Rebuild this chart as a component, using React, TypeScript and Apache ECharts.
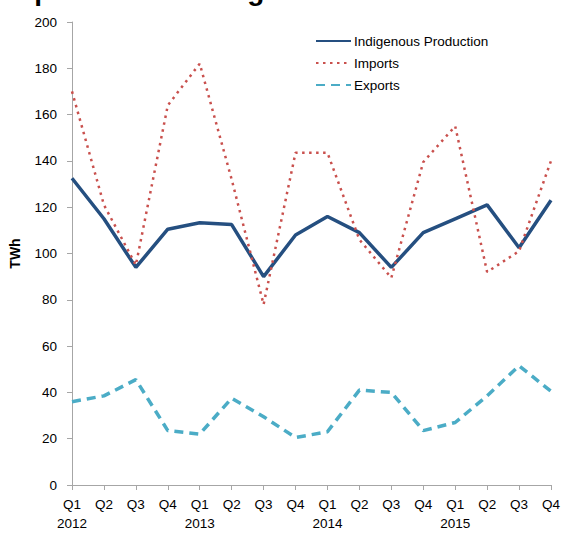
import React, { useEffect, useRef } from "react";
import * as echarts from "echarts";

const quarters = ["Q1", "Q2", "Q3", "Q4", "Q1", "Q2", "Q3", "Q4", "Q1", "Q2", "Q3", "Q4", "Q1", "Q2", "Q3", "Q4"];
const years = ["2012", "", "", "", "2013", "", "", "", "2014", "", "", "", "2015", "", "", ""];
const production = [132.5, 115, 94, 110.5, 113.3, 112.5, 90, 108, 116, 109, 94, 109, 115, 121, 102.5, 123];
const imports = [170, 121, 95, 164, 182, 132, 78, 143.5, 143.5, 106, 89.5, 139.5, 155, 92, 101, 140];
const exportsData = [36, 38.5, 45.5, 23.5, 22, 37.5, 29.5, 20.5, 23, 41, 40, 23.5, 27, 38.5, 51.5, 40.5];
const yTicks = { min: 0, max: 200, interval: 20 };

const FONT = "'Liberation Sans', Arial, sans-serif";

export default function App() {
  const ref = useRef<HTMLDivElement>(null);
  useEffect(() => {
    document.body.style.margin = "0";
    const chart = echarts.init(ref.current!, null, { renderer: "svg" });
    const cats = quarters.map((q, i) => (years[i] ? q + "\n" + years[i] : q));
    chart.setOption({
      animation: false,
      textStyle: { fontFamily: FONT },
      graphic: [
        {
          type: "text",
          left: 0,
          top: -24,
          style: {
            text: "Exports of natural gas",
            font: "bold 28px 'Liberation Sans', Arial, sans-serif",
            fill: "#000",
          },
        },
      ],
      legend: {
        orient: "vertical",
        left: 310,
        top: 29,
        itemWidth: 35,
        itemHeight: 10,
        itemGap: 8,
        itemStyle: { opacity: 0 },
        textStyle: { fontSize: 13.5, color: "#000", fontFamily: FONT, padding: [0, 0, 0, -2] },
        data: ["Indigenous Production", "Imports", "Exports"],
      },
      grid: { left: 72, right: 11, top: 22, bottom: 47, containLabel: false },
      xAxis: {
        type: "category",
        data: cats,
        boundaryGap: false,
        axisLine: { lineStyle: { color: "#a6a6a6", width: 1 } },
        axisTick: { show: true, length: 5, lineStyle: { color: "#a6a6a6" } },
        axisLabel: { color: "#000", fontSize: 13.5, fontFamily: FONT, lineHeight: 19, margin: 10, interval: 0 },
      },
      yAxis: {
        type: "value",
        min: yTicks.min,
        max: yTicks.max,
        interval: yTicks.interval,
        name: "TWh",
        nameLocation: "middle",
        nameGap: 50,
        nameTextStyle: { fontSize: 14, fontWeight: "bold", color: "#000", fontFamily: FONT },
        splitLine: { show: false },
        axisLine: { show: true, lineStyle: { color: "#a6a6a6", width: 1 } },
        axisTick: { show: true, inside: false, length: 5, lineStyle: { color: "#a6a6a6" } },
        axisLabel: { color: "#000", fontSize: 13.5, fontFamily: FONT, margin: 15 },
      },
      series: [
        {
          name: "Indigenous Production",
          type: "line",
          data: production,
          symbol: "none",
          lineStyle: { color: "#254F80", width: 3.5 },
          itemStyle: { color: "#254F80" },
        },
        {
          name: "Imports",
          type: "line",
          data: imports,
          symbol: "none",
          lineStyle: { color: "#C9504D", width: 2.5, type: [2.5, 4.5] },
          itemStyle: { color: "#C9504D" },
        },
        {
          name: "Exports",
          type: "line",
          data: exportsData,
          symbol: "none",
          lineStyle: { color: "#4BACC6", width: 3.5, type: [9, 6] },
          itemStyle: { color: "#4BACC6" },
        },
      ],
    });
    return () => chart.dispose();
  }, []);
  return <div ref={ref} style={{ width: 563, height: 533 }} />;
}
